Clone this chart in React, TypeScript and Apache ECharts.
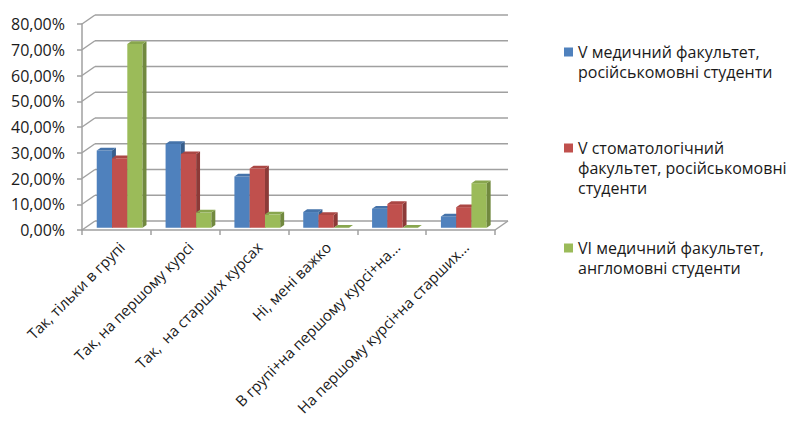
import React, { useEffect, useRef } from "react";
import * as echarts from "echarts";

const categories = [
  "Так, тільки в групі",
  "Так, на першому курсі",
  "Так,  на старших курсах",
  "Ні, мені важко",
  "В групі+на першому курсі+на...",
  "На першому курсі+на старших...",
];
const seriesNames = [
  "V медичний факультет, російськомовні студенти",
  "V стоматологічний факультет, російськомовні студенти",
  "VI медичний факультет, англомовні студенти",
];
const legendLines = [
  ["V медичний факультет,", "російськомовні студенти"],
  ["V стоматологічний", "факультет, російськомовні", "студенти"],
  ["VI медичний факультет,", "англомовні студенти"],
];
const blueValues = [0.3, 0.325, 0.199, 0.061, 0.074, 0.044];
const redValues = [0.27, 0.286, 0.23, 0.05, 0.092, 0.08];
const greenValues = [0.714, 0.059, 0.052, 0, 0, 0.173];
const yTicks = [0, 0.1, 0.2, 0.3, 0.4, 0.5, 0.6, 0.7, 0.8];

const frontColors = ["#4F81BD", "#C0504D", "#9BBB59"];
const sideColors = ["#385E8C", "#8C3A38", "#71893F"];
const topColors = ["#4573AA", "#AB4744", "#88A64E"];

const DX = 13;
const DY = -9;
const F1 = 0.25;
const F2 = 0.55;
const FONT = "'Open Sans', 'Noto Sans', sans-serif";

export default function App() {
  const ref = useRef<HTMLDivElement>(null);
  useEffect(() => {
    if (!ref.current) return;
    const chart = echarts.init(ref.current, null, { renderer: "svg" });
    const allValues = [blueValues, redValues, greenValues];

    const barRender = (si: number) => (params: any, api: any) => {
      const idx = api.value(0);
      const v = api.value(1);
      const base = api.coord([idx, 0]);
      const top = api.coord([idx, v]);
      const catW = api.size([1, 0])[0];
      const bw = catW * 0.222;
      const xL = base[0] - 1.5 * bw + si * bw;
      const xR = xL + bw;
      const ox1 = DX * F1, oy1 = DY * F1, ox2 = DX * F2, oy2 = DY * F2;
      const yb = base[1] + oy1;
      const yt = top[1] + oy1;
      return {
        type: "group",
        children: [
          {
            type: "rect",
            shape: { x: xL + ox1, y: yt, width: bw, height: Math.max(0, yb - yt) },
            style: { fill: frontColors[si] },
          },
          {
            type: "polygon",
            shape: {
              points: [
                [xR + ox1, yt],
                [xR + ox1, yb],
                [xR + ox2, base[1] + oy2],
                [xR + ox2, top[1] + oy2],
              ],
            },
            style: { fill: sideColors[si] },
          },
          {
            type: "polygon",
            shape: {
              points: [
                [xL + ox1, yt],
                [xR + ox1, yt],
                [xR + ox2, top[1] + oy2],
                [xL + ox2, top[1] + oy2],
              ],
            },
            style: { fill: topColors[si] },
          },
        ],
      };
    };

    const wallRender = (params: any, api: any) => {
      const v = api.value(1);
      const cs = params.coordSys;
      const x0 = cs.x;
      const x1 = cs.x + cs.width;
      const y = api.coord([0, v])[1];
      const st = { stroke: "#A0A0A0", lineWidth: 1.5, fill: "none" };
      const children: any[] = [
        { type: "line", shape: { x1: x0, y1: y, x2: x0 + DX, y2: y + DY }, style: st },
        { type: "line", shape: { x1: x0 + DX, y1: y + DY, x2: x1 + DX, y2: y + DY }, style: st },
      ];
      if (v === 0) {
        children.push({ type: "line", shape: { x1: x1, y1: y, x2: x1 + DX, y2: y + DY }, style: st });
      }
      return { type: "group", children };
    };

    const legendTops = [22, 98, 218];
    const legends = seriesNames.map((name, i) => {
      const lines = legendLines[i];
      const pad = lines.length - 1;
      return {
        show: true,
        data: [name],
        orient: "vertical",
        left: 564,
        top: legendTops[i],
        padding: 0,
        icon: "rect",
        itemWidth: 9,
        itemHeight: 9,
        itemGap: 5,
        selectedMode: false,
        formatter: () => "\n".repeat(pad) + lines.join("\n"),
        textStyle: { fontFamily: FONT, fontSize: 16, color: "#1a1a1a", lineHeight: 20 },
      };
    });

    chart.setOption({
      animation: false,
      color: frontColors,
      grid: {
        left: 82,
        right: 295,
        top: 24,
        bottom: 191,
        containLabel: false,
        outerBoundsMode: "none",
      },
      legend: legends,
      xAxis: {
        type: "category",
        data: categories,
        axisLine: { show: true, lineStyle: { color: "#A0A0A0", width: 1.5 } },
        axisTick: { show: true, length: 5, alignWithLabel: false, lineStyle: { color: "#A0A0A0", width: 1.5 } },
        axisLabel: {
          interval: 0,
          rotate: 45,
          margin: 9,
          verticalAlign: "top",
          hideOverlap: false,
          fontFamily: FONT,
          fontSize: 15,
          color: "#1a1a1a",
        },
        splitLine: { show: false },
      },
      yAxis: {
        type: "value",
        min: 0,
        max: 0.8,
        interval: 0.1,
        axisLine: { show: true, lineStyle: { color: "#A0A0A0", width: 1.5 } },
        axisTick: { show: true, length: 5, lineStyle: { color: "#A0A0A0", width: 1.5 } },
        axisLabel: {
          margin: 17,
          fontFamily: FONT,
          fontSize: 16,
          color: "#1a1a1a",
          formatter: (v: number) => (v * 100).toFixed(2).replace(".", ",") + "%",
        },
        splitLine: { show: false },
      },
      series: [
        {
          type: "custom",
          name: "walls",
          clip: false,
          silent: true,
          z: 1,
          encode: { x: 0, y: 1 },
          data: yTicks.map((v) => [0, v]),
          renderItem: wallRender,
        },
        ...seriesNames.map((name, si) => ({
          type: "custom",
          name,
          clip: false,
          z: 2 + si,
          itemStyle: { color: frontColors[si] },
          encode: { x: 0, y: 1 },
          data: allValues[si].map((v, i) => [i, v]),
          renderItem: barRender(si),
        })),
      ],
    });
    return () => chart.dispose();
  }, []);
  return (
    <div
      ref={ref}
      style={{ position: "absolute", left: 0, top: 0, width: 790, height: 421 }}
    />
  );
}
